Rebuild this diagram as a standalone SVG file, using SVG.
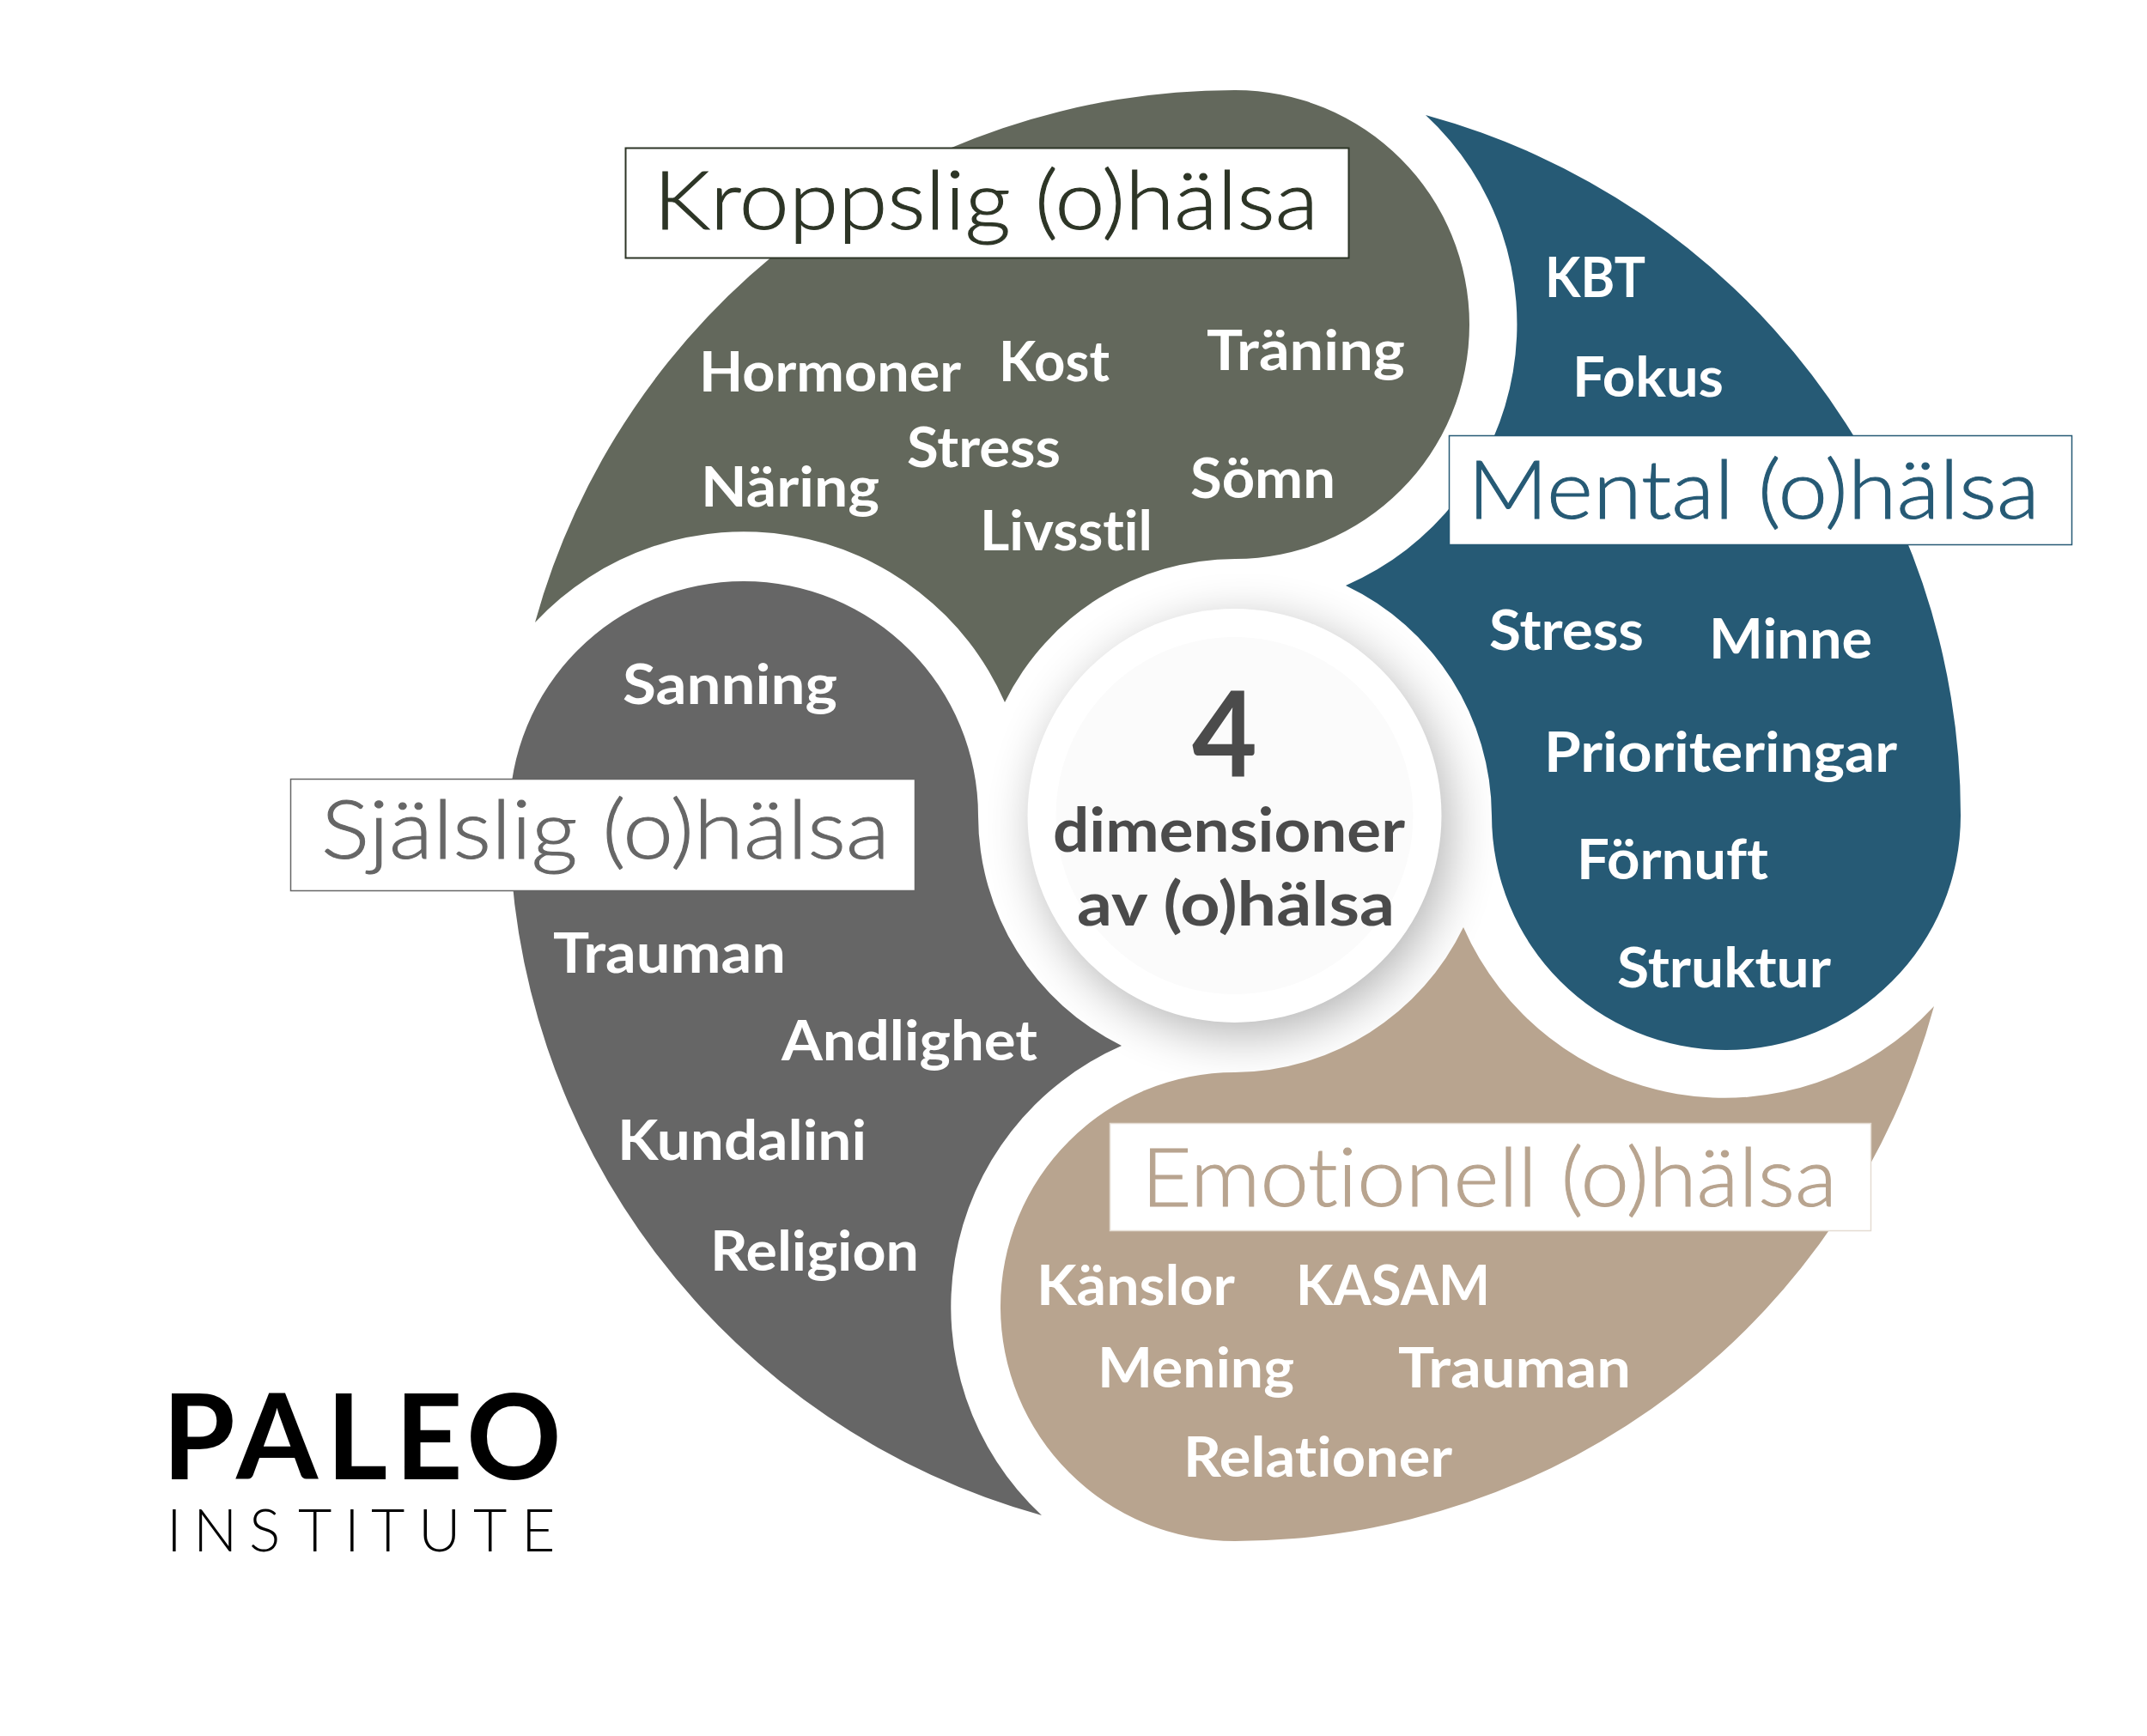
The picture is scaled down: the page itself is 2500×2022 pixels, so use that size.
<svg xmlns="http://www.w3.org/2000/svg" xmlns:xlink="http://www.w3.org/1999/xlink" width="2500" height="2022" viewBox="0 0 2500 2022">
<style>
text{font-variant-ligatures:none;font-kerning:normal}
.w{font-family:Lato,"Open Sans",sans-serif;font-weight:700;font-size:65px;fill:#fff}
.t{font-family:Lato,"Open Sans",sans-serif;font-weight:300;font-size:94px;stroke-width:1px}
.c{font-family:Lato,"Open Sans",sans-serif;font-weight:700;fill:#4b4b4b}
</style>
<defs>
<path id="leaf" d="M1438 105A273 273 0 0 1 1438 651A299 299 0 0 0 1170 818A332 332 0 0 0 623 725A845 845 0 0 1 1438 105Z"/>
<filter id="sh" x="-40%" y="-40%" width="180%" height="180%"><feGaussianBlur stdDeviation="29"/></filter>
</defs>
<rect width="2500" height="2022" fill="#fff"/>
<circle cx="1447" cy="965" r="240" fill="#000" opacity=".3" filter="url(#sh)"/>
<g id="kroppslig">
<use xlink:href="#leaf" href="#leaf" fill="#63685c"/>
<rect x="728.500" y="172.500" width="842" height="128" fill="#fff" stroke="#2d3526" stroke-width="2"/>
<text class="t" x="761" y="267" fill="#2d3526" stroke="#2d3526" textLength="774" lengthAdjust="spacingAndGlyphs">Kroppslig (o)hälsa</text>
<text class="w" x="814" y="456" textLength="305" lengthAdjust="spacingAndGlyphs">Hormoner</text>
<text class="w" x="1163" y="444" textLength="129" lengthAdjust="spacingAndGlyphs">Kost</text>
<text class="w" x="1405" y="431" textLength="231" lengthAdjust="spacingAndGlyphs">Träning</text>
<text class="w" x="1056" y="544" textLength="179" lengthAdjust="spacingAndGlyphs">Stress</text>
<text class="w" x="816" y="590" textLength="208" lengthAdjust="spacingAndGlyphs">Näring</text>
<text class="w" x="1386" y="580" textLength="169" lengthAdjust="spacingAndGlyphs">Sömn</text>
<text class="w" x="1141" y="641" textLength="201" lengthAdjust="spacingAndGlyphs">Livsstil</text>
</g>
<g id="sjalslig">
<use xlink:href="#leaf" href="#leaf" fill="#666" transform="rotate(-90 1438 950)"/>
<rect x="338.500" y="907.500" width="727" height="130" fill="#fff" stroke="#666" stroke-width="1.500"/>
<text class="t" x="374" y="1000" fill="#666" stroke="#666" textLength="662" lengthAdjust="spacingAndGlyphs">Själslig (o)hälsa</text>
<text class="w" x="725" y="820" textLength="250" lengthAdjust="spacingAndGlyphs">Sanning</text>
<text class="w" x="644" y="1133" textLength="271" lengthAdjust="spacingAndGlyphs">Trauman</text>
<text class="w" x="910" y="1235" textLength="298" lengthAdjust="spacingAndGlyphs">Andlighet</text>
<text class="w" x="719" y="1351" textLength="290" lengthAdjust="spacingAndGlyphs">Kundalini</text>
<text class="w" x="827" y="1480" textLength="243" lengthAdjust="spacingAndGlyphs">Religion</text>
</g>
<g id="emotionell">
<path fill="#b8a48f" d="M1438 1795A273 273 0 0 1 1438 1249A299 299 0 0 0 1704 1080A332 332 0 0 0 2252 1172A845 845 0 0 1 1438 1795Z"/>
<rect x="1292.500" y="1308.500" width="886" height="125" fill="#fff" stroke="#e4dcd2" stroke-width="1.500"/>
<text class="t" x="1329" y="1405" fill="#b8a48f" stroke="#b8a48f" textLength="810" lengthAdjust="spacingAndGlyphs">Emotionell (o)hälsa</text>
<text class="w" x="1207" y="1520" textLength="231" lengthAdjust="spacingAndGlyphs">Känslor</text>
<text class="w" x="1509" y="1520" textLength="226" lengthAdjust="spacingAndGlyphs">KASAM</text>
<text class="w" x="1278" y="1616" textLength="229" lengthAdjust="spacingAndGlyphs">Mening</text>
<text class="w" x="1628" y="1616" textLength="271" lengthAdjust="spacingAndGlyphs">Trauman</text>
<text class="w" x="1378" y="1720" textLength="313" lengthAdjust="spacingAndGlyphs">Relationer</text>
</g>
<g id="mental">
<path fill="#265a75" d="M2283 950A273 273 0 0 1 1737 950A299 299 0 0 0 1567 682A332 332 0 0 0 1660 134A845 845 0 0 1 2283 950Z"/>
<rect x="1687.500" y="507.500" width="725" height="127" fill="#fff" stroke="#265a75" stroke-width="1.500"/>
<text class="t" x="1709" y="604" fill="#265a75" stroke="#265a75" textLength="666" lengthAdjust="spacingAndGlyphs">Mental (o)hälsa</text>
<text class="w" x="1799" y="346" textLength="117" lengthAdjust="spacingAndGlyphs">KBT</text>
<text class="w" x="1831" y="462" textLength="176" lengthAdjust="spacingAndGlyphs">Fokus</text>
<text class="w" x="1734" y="757" textLength="180" lengthAdjust="spacingAndGlyphs">Stress</text>
<text class="w" x="1990" y="767" textLength="190" lengthAdjust="spacingAndGlyphs">Minne</text>
<text class="w" x="1798" y="899" textLength="411" lengthAdjust="spacingAndGlyphs">Prioriteringar</text>
<text class="w" x="1836" y="1024" textLength="223" lengthAdjust="spacingAndGlyphs">Förnuft</text>
<text class="w" x="1883" y="1150" textLength="249" lengthAdjust="spacingAndGlyphs">Struktur</text>
</g>
<g id="center">
<circle cx="1437.500" cy="950" r="241" fill="#fff"/>
<circle cx="1437.500" cy="950" r="208" fill="#fbfbfb"/>
<text class="c" x="1388" y="904" font-size="138" textLength="76" lengthAdjust="spacingAndGlyphs">4</text>
<text class="c" x="1226" y="992" font-size="70" textLength="410" lengthAdjust="spacingAndGlyphs">dimensioner</text>
<text class="c" x="1254" y="1078" font-size="70" textLength="370" lengthAdjust="spacingAndGlyphs">av (o)hälsa</text>
</g>
<g id="logo">
<text x="189 275 380 460 543" y="1723" font-family="Lato,sans-serif" font-weight="700" font-size="137" fill="#000" style="font-kerning:none">PALEO</text>
<text x="194 225 290 347 401 432 487 551 607" y="1807" font-family="Lato,sans-serif" font-weight="300" font-size="68" fill="#000" style="font-kerning:none">INSTITUTE</text>
</g>
<g id="connectors"/>
</svg>
